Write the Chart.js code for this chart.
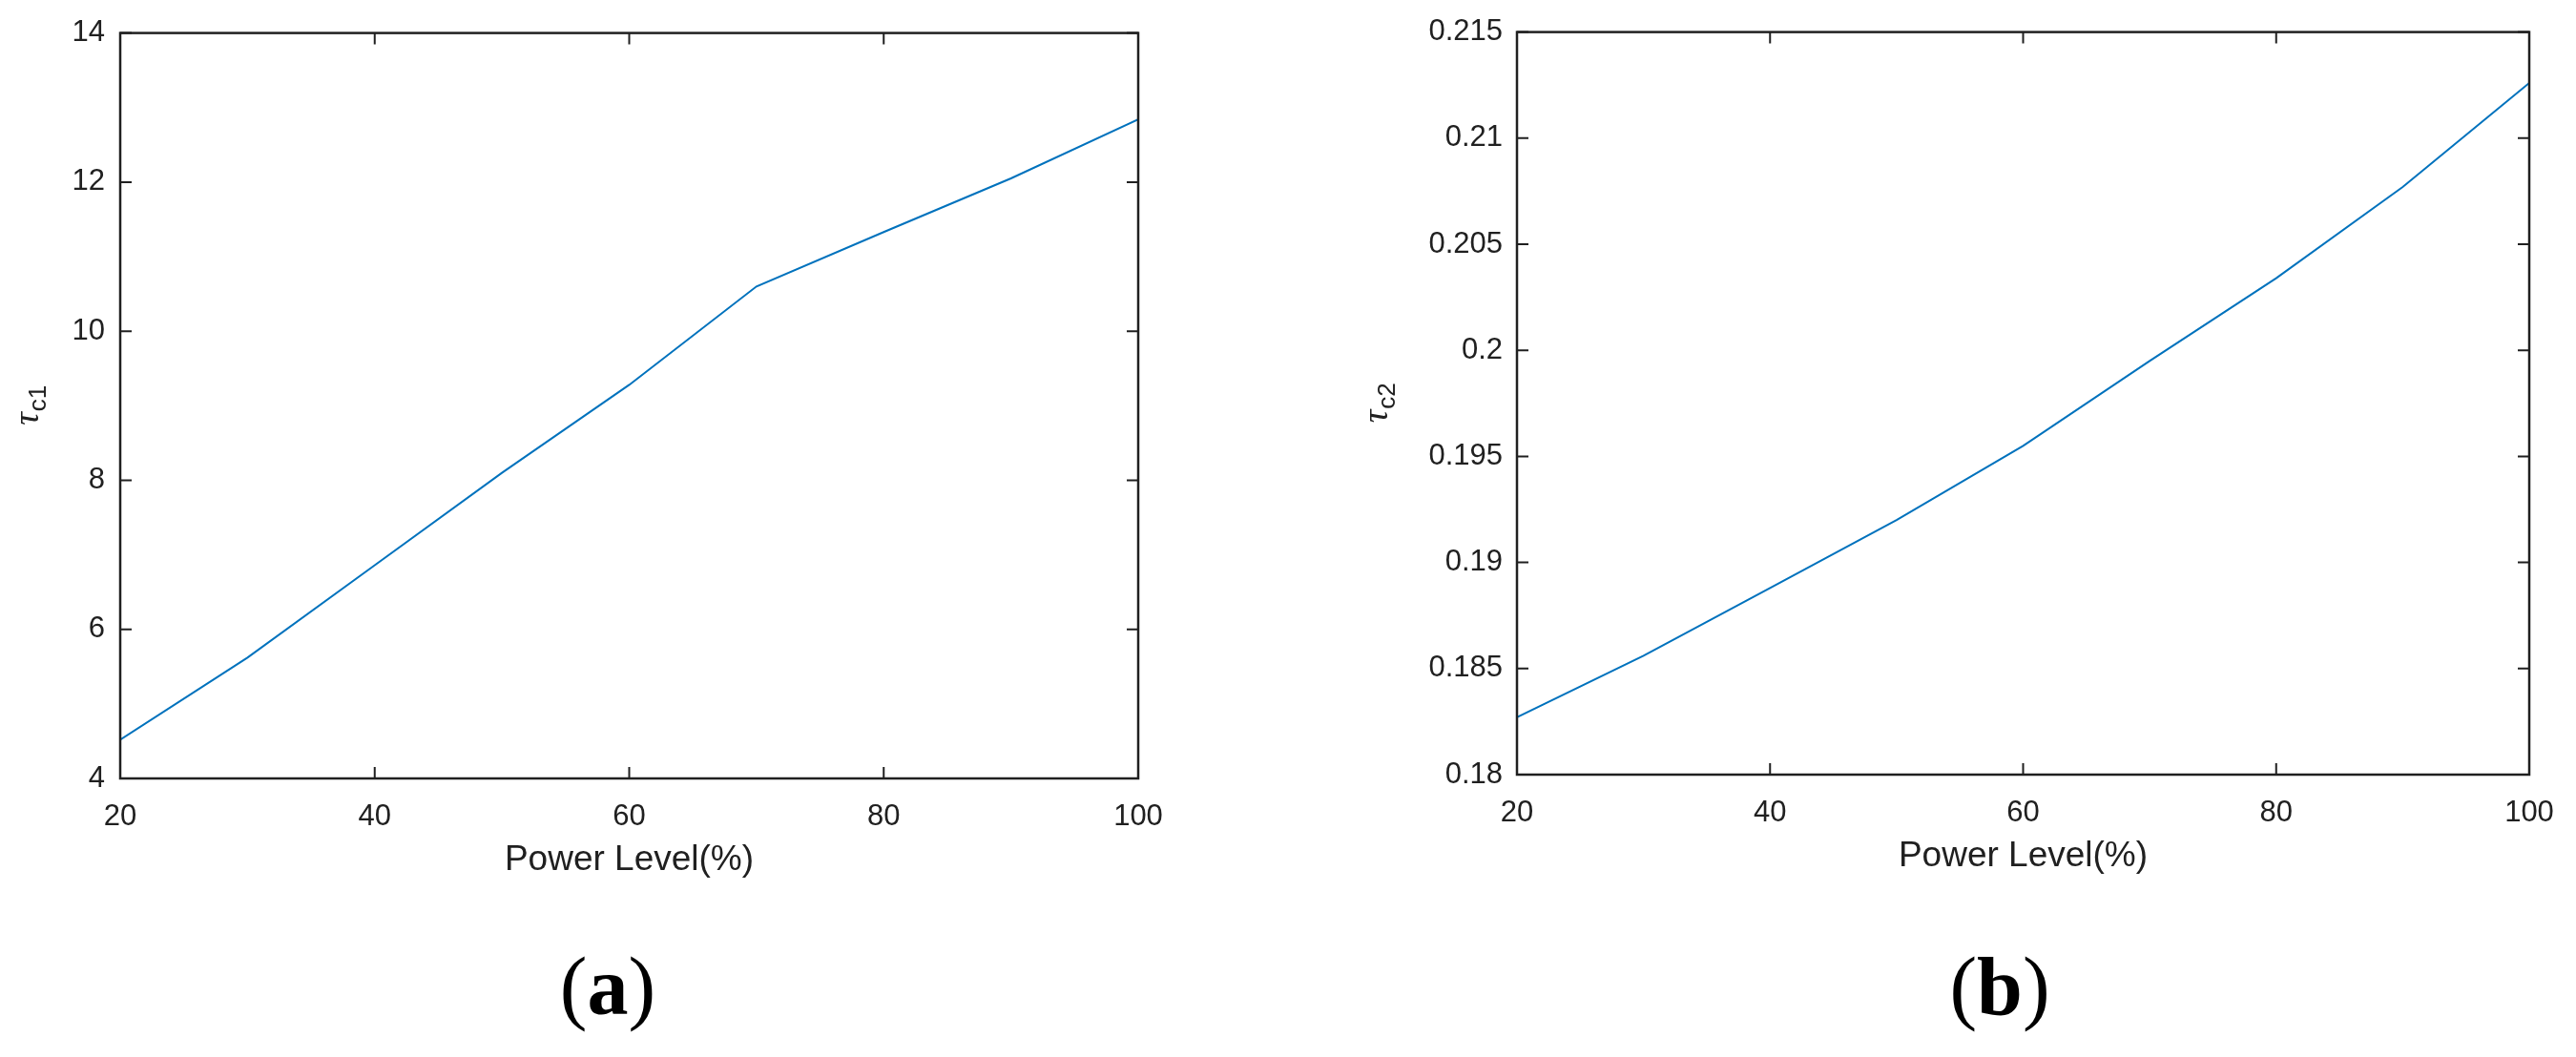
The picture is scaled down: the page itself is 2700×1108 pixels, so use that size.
<!DOCTYPE html>
<html>
<head>
<meta charset="utf-8">
<script src="https://cdn.jsdelivr.net/npm/chart.js@4.4.1/dist/chart.umd.min.js"></script>
<style>
  html, body { margin: 0; padding: 0; background: #fff; }
  #wrap { position: relative; width: 2700px; height: 1108px; }
  canvas { position: absolute; top: 0; }
  #grafA { left: 0; }
  #grafB { left: 1350px; }
</style>
</head>
<body>
<div id="wrap">
  <canvas id="grafA" width="1350" height="1108"></canvas>
  <canvas id="grafB" width="1350" height="1108"></canvas>
</div>
<script>
// Datos
const nivelPotencia = [20, 30, 40, 50, 60, 70, 80, 90, 100];
const tauC1 = [4.52, 5.62, 6.86, 8.1, 9.28, 10.6, 11.33, 12.05, 12.84];
const tauC2 = [0.1827, 0.1856, 0.1888, 0.1920, 0.1955, 0.1995, 0.2034, 0.2077, 0.2126];
const ticksX = [20, 40, 60, 80, 100];
const ticksYA = [4, 6, 8, 10, 12, 14];
const ticksYB = [0.18, 0.185, 0.19, 0.195, 0.2, 0.205, 0.21, 0.215];

const COLOR_EJE = '#202020';
const FUENTE = '"Liberation Sans", Arial, sans-serif';

// Dibuja tau con subíndice, girado
function dibujarTau(ctx, cx, cy, sub) {
    ctx.save();
    ctx.translate(cx, cy);
    ctx.rotate(-Math.PI / 2);
    const fTau = 'italic 38px "Liberation Serif", serif';
    const fSub = '26px ' + FUENTE;
    ctx.font = fTau;
    const wT = ctx.measureText('τ').width;
    ctx.font = fSub;
    const wS = ctx.measureText(sub).width;
    const x0 = -(wT + wS) / 2;
    ctx.fillStyle = COLOR_EJE;
    ctx.textBaseline = 'alphabetic';
    ctx.textAlign = 'left';
    ctx.font = fTau;
    ctx.fillText('τ', x0, 4);
    ctx.font = fSub;
    ctx.fillText(sub, x0 + wT + 1, 12);
    ctx.restore();
}

// Etiqueta (a) / (b)
function dibujarPanel(ctx, cx, base, letra) {
    const fReg = '86px "Liberation Serif", serif';
    const fBold = 'bold 86px "Liberation Serif", serif';
    ctx.save();
    ctx.fillStyle = '#000';
    ctx.textBaseline = 'alphabetic';
    ctx.textAlign = 'left';
    ctx.font = fReg;
    const wP1 = ctx.measureText('(').width;
    const wP2 = ctx.measureText(')').width;
    ctx.font = fBold;
    const wL = ctx.measureText(letra).width;
    let x = cx - (wP1 + wL + wP2) / 2;
    ctx.font = fReg;
    ctx.fillText('(', x, base);
    x += wP1;
    ctx.font = fBold;
    ctx.fillText(letra, x, base);
    x += wL;
    ctx.font = fReg;
    ctx.fillText(')', x, base);
    ctx.restore();
}

// Plugin: caja, marcas hacia dentro y textos extra
const marcoPlugin = {
    id: 'marco',
    afterDraw(chart, args, opts) {
        const { ctx, chartArea: a, scales } = chart;
        ctx.save();
        ctx.strokeStyle = COLOR_EJE;
        ctx.lineWidth = 2.5;
        ctx.strokeRect(a.left, a.top, a.right - a.left, a.bottom - a.top);
        ctx.lineWidth = 2;
        ctx.beginPath();
        scales.x.ticks.forEach(t => {
            const px = scales.x.getPixelForValue(t.value);
            ctx.moveTo(px, a.bottom);
            ctx.lineTo(px, a.bottom - 12);
            ctx.moveTo(px, a.top);
            ctx.lineTo(px, a.top + 12);
        });
        scales.y.ticks.forEach(t => {
            const py = scales.y.getPixelForValue(t.value);
            ctx.moveTo(a.left, py);
            ctx.lineTo(a.left + 12, py);
            ctx.moveTo(a.right, py);
            ctx.lineTo(a.right - 12, py);
        });
        ctx.stroke();
        ctx.restore();

        dibujarTau(ctx, opts.tauX, (a.top + a.bottom) / 2, opts.sub);
        dibujarPanel(ctx, opts.panelX, 1063, opts.letra);
    }
};

function crearGrafico(id, valores, ticksY, cfg) {
    const ctx = document.getElementById(id).getContext('2d');
    return new Chart(ctx, {
        type: 'line',
        data: {
            datasets: [{
                data: nivelPotencia.map((x, i) => ({ x: x, y: valores[i] })),
                borderColor: '#0072BD',
                borderWidth: 2,
                pointRadius: 0,
                tension: 0,
                fill: false
            }]
        },
        options: {
            responsive: false,
            animation: false,
            devicePixelRatio: 1,
            layout: {
                padding: { left: 0, top: cfg.arriba, right: cfg.derecha, bottom: cfg.abajo }
            },
            plugins: {
                legend: { display: false },
                tooltip: { enabled: false },
                marco: { tauX: cfg.tauX, sub: cfg.sub, panelX: cfg.panelX, letra: cfg.letra }
            },
            scales: {
                x: {
                    type: 'linear',
                    min: 20,
                    max: 100,
                    afterBuildTicks: scale => { scale.ticks = ticksX.map(v => ({ value: v })); },
                    afterFit: scale => { scale.height = 108; },
                    grid: { display: false, drawTicks: false },
                    border: { display: false },
                    ticks: {
                        color: COLOR_EJE,
                        padding: 22,
                        maxRotation: 0,
                        autoSkip: false,
                        font: { family: FUENTE, size: 31 }
                    },
                    title: {
                        display: true,
                        text: 'Power Level(%)',
                        color: COLOR_EJE,
                        padding: { top: 0, bottom: 0 },
                        font: { family: FUENTE, size: 37 }
                    }
                },
                y: {
                    type: 'linear',
                    min: ticksY[0],
                    max: ticksY[ticksY.length - 1],
                    afterBuildTicks: scale => { scale.ticks = ticksY.map(v => ({ value: v })); },
                    afterFit: scale => { scale.width = cfg.anchoY; },
                    grid: { display: false, drawTicks: false },
                    border: { display: false },
                    ticks: {
                        color: COLOR_EJE,
                        padding: cfg.padY,
                        autoSkip: false,
                        font: { family: FUENTE, size: 31 },
                        callback: v => String(Number(v.toFixed(4)))
                    }
                }
            }
        },
        plugins: [marcoPlugin]
    });
}

crearGrafico('grafA', tauC1, ticksYA, {
    arriba: 32, derecha: 157, abajo: 184, anchoY: 126, padY: 16,
    tauX: 36, sub: 'c1', panelX: 637, letra: 'a'
});
crearGrafico('grafB', tauC2, ticksYB, {
    arriba: 33, derecha: 49, abajo: 188, anchoY: 240, padY: 15,
    tauX: 100, sub: 'c2', panelX: 746, letra: 'b'
});
</script>
</body>
</html>
